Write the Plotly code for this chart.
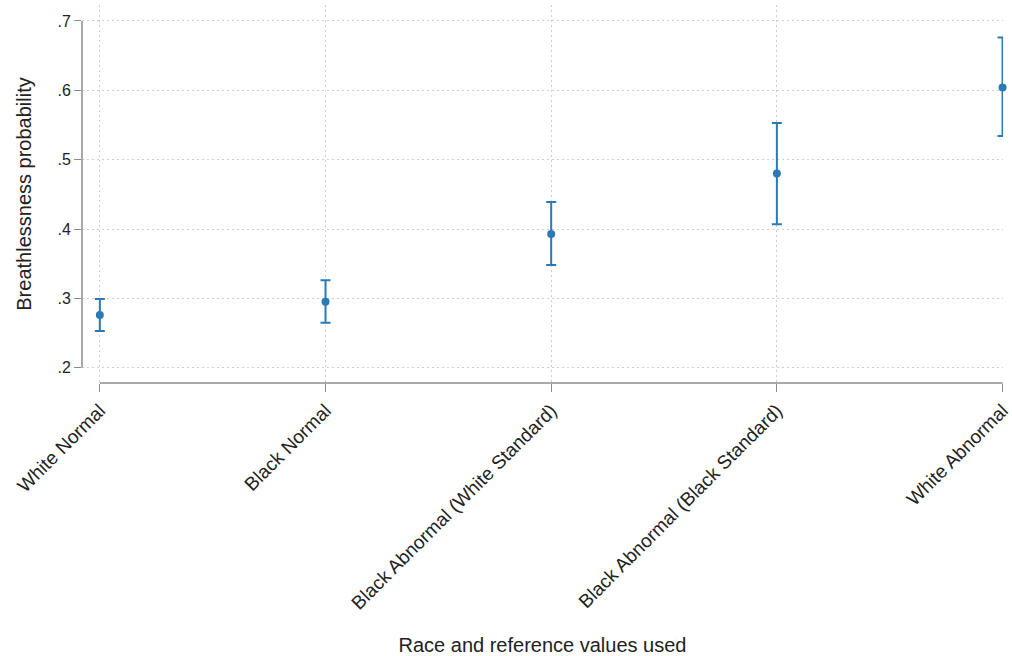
import plotly.graph_objects as go

categories = ["White Normal", "Black Normal", "Black Abnormal (White Standard)",
              "Black Abnormal (Black Standard)", "White Abnormal"]
estimate = [0.276, 0.295, 0.393, 0.480, 0.604]
ci_lower = [0.253, 0.265, 0.348, 0.407, 0.534]
ci_upper = [0.299, 0.326, 0.439, 0.553, 0.676]
y_ticks = [0.2, 0.3, 0.4, 0.5, 0.6, 0.7]
y_ticklabels = [".2", ".3", ".4", ".5", ".6", ".7"]

BLUE = "#2a7ab8"
AXIS = "#8c8c8c"
GRID = "#cfcfcf"
FONT = "Liberation Sans, Arial, sans-serif"

xpos = list(range(len(categories)))
fig = go.Figure()
fig.add_trace(go.Scatter(
    x=xpos, y=estimate, mode="markers",
    marker=dict(color=BLUE, size=8),
    error_y=dict(type="data", symmetric=False,
                 array=[u - e for u, e in zip(ci_upper, estimate)],
                 arrayminus=[e - l for l, e in zip(ci_lower, estimate)],
                 color=BLUE, thickness=2, width=5),
    cliponaxis=False, showlegend=False,
))

fig.update_layout(
    width=1012, height=656,
    margin=dict(l=82, r=9, t=5, b=273),
    paper_bgcolor="white", plot_bgcolor="white",
    font=dict(family=FONT, color="#222", size=17),
    xaxis=dict(
        range=[-0.079, 4.002], tickmode="array", tickvals=xpos, ticktext=categories,
        tickangle=-45, ticks="outside", ticklen=8, tickcolor=AXIS, tickwidth=1.3,
        showline=False, zeroline=False, ticklabeloverflow="allow",
        showgrid=True, gridcolor=GRID, griddash="2px,3px", gridwidth=1.2,
        tickfont=dict(size=19),
        title=dict(text="Race and reference values used", standoff=28, font=dict(size=20)),
        automargin=False,
    ),
    yaxis=dict(
        range=[0.178, 0.723], tickmode="array", tickvals=y_ticks, ticktext=y_ticklabels,
        ticks="outside", ticklen=7, tickcolor=AXIS, tickwidth=1.3,
        showline=False, zeroline=False,
        showgrid=True, gridcolor=GRID, griddash="2px,3px", gridwidth=1.2,
        tickfont=dict(size=16),
        title=dict(text="Breathlessness probability", standoff=20, font=dict(size=20)),
        automargin=False,
    ),
    shapes=[
        dict(type="line", xref="paper", yref="y", x0=0, x1=0, y0=0.2, y1=0.7,
             line=dict(color=AXIS, width=1.5)),
        dict(type="line", xref="x", yref="paper", x0=0, x1=4, y0=0, y1=0,
             line=dict(color=AXIS, width=1.5)),
    ],
)

fig.write_html("out.html", config={"displayModeBar": False},
               post_script="document.body.style.margin='0';document.body.style.overflow='hidden';")
